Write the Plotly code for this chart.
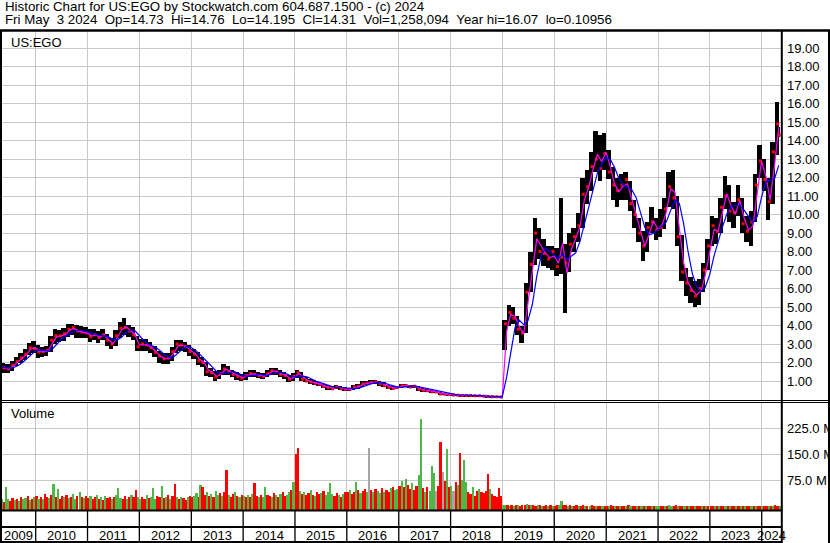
import pandas as pd
import plotly.graph_objects as go

# ---------------- data ----------------
# monthly bars, first bar = April 2009, last bar = May 2024 (partial month)
price_close = [
    1.75, 1.70, 1.65, 1.85, 2.05, 2.25, 2.45, 2.80, 2.75,                      # 2009 Apr-Dec
    2.55, 2.60, 2.65, 3.20, 3.45, 3.45, 3.55, 3.80, 3.90, 3.70, 3.65, 3.60,    # 2010
    3.40, 3.50, 3.35, 3.50, 3.20, 3.00, 3.45, 3.85, 3.90, 3.70, 3.50, 2.85,    # 2011
    3.00, 2.95, 2.80, 2.55, 2.35, 2.20, 2.25, 2.60, 3.00, 2.95, 2.85, 2.60,    # 2012
    2.45, 2.10, 2.00, 1.50, 1.45, 1.20, 1.40, 1.65, 1.50, 1.35, 1.25, 1.15,    # 2013
    1.30, 1.40, 1.35, 1.30, 1.25, 1.40, 1.55, 1.50, 1.35, 1.30, 1.10, 1.25,    # 2014
    1.45, 1.10, 1.00, 0.95, 0.88, 0.82, 0.70, 0.65, 0.58, 0.68, 0.58, 0.55,    # 2015
    0.55, 0.68, 0.70, 0.85, 0.88, 0.92, 0.95, 0.85, 0.75, 0.65, 0.60, 0.65,    # 2016
    0.75, 0.75, 0.68, 0.72, 0.55, 0.50, 0.48, 0.42, 0.40, 0.30, 0.28, 0.27,    # 2017
    0.25, 0.23, 0.22, 0.22, 0.21, 0.20, 0.20, 0.17, 0.16, 0.15, 0.15, 0.14,    # 2018
    4.10, 4.70, 4.40, 3.80, 3.60, 5.80, 7.30, 9.00, 8.00, 7.90, 7.60, 8.00,    # 2019
    7.20, 7.70, 7.40, 8.40, 8.80, 9.40, 11.10, 11.50, 12.60, 13.00, 12.50, 13.30,  # 2020
    12.30, 11.60, 11.30, 11.60, 11.90, 10.60, 10.00, 9.00, 8.30, 9.30, 9.60, 9.20,  # 2021
    9.30, 10.30, 11.50, 10.90, 8.80, 6.90, 6.30, 5.90, 5.60, 6.00, 7.00, 8.30,     # 2022
    9.40, 9.10, 10.40, 11.00, 10.20, 10.10, 10.80, 9.50, 9.10, 9.60, 11.60, 12.90,  # 2023
    11.90, 10.70, 13.40, 14.90, 14.31,                                         # 2024 Jan-May
]
price_high = [
    2.00, 1.95, 1.90, 2.10, 2.30, 2.50, 2.75, 3.05, 3.15,
    2.95, 2.85, 2.90, 3.45, 3.80, 3.75, 3.85, 4.10, 4.10, 4.05, 3.95, 3.90,
    3.80, 3.80, 3.70, 3.80, 3.55, 3.30, 3.75, 4.20, 4.40, 4.05, 3.90, 3.45,
    3.25, 3.25, 3.10, 2.90, 2.65, 2.50, 2.50, 2.85, 3.20, 3.20, 3.10, 2.95,
    2.75, 2.55, 2.30, 2.05, 1.70, 1.55, 1.60, 1.90, 1.80, 1.60, 1.48, 1.38,
    1.48, 1.58, 1.58, 1.48, 1.42, 1.58, 1.72, 1.68, 1.58, 1.48, 1.32, 1.42,
    1.60, 1.50, 1.20, 1.10, 1.04, 0.96, 0.86, 0.79, 0.72, 0.79, 0.72, 0.66,
    0.64, 0.79, 0.82, 0.99, 1.02, 1.04, 1.06, 0.99, 0.92, 0.79, 0.74, 0.74,
    0.83, 0.85, 0.81, 0.81, 0.73, 0.61, 0.58, 0.53, 0.48, 0.41, 0.35, 0.32,
    0.31, 0.28, 0.26, 0.26, 0.25, 0.24, 0.23, 0.21, 0.20, 0.19, 0.18, 0.17,
    4.30, 5.10, 5.00, 4.50, 4.00, 6.30, 8.00, 9.80, 9.30, 8.70, 8.30, 8.30,
    8.20, 10.90, 8.40, 9.00, 9.30, 10.10, 12.00, 12.40, 13.40, 14.50, 14.30, 14.40,
    13.50, 12.60, 12.00, 12.20, 12.30, 11.80, 10.80, 9.80, 9.10, 9.60, 10.40, 9.80,
    10.30, 10.90, 12.30, 12.40, 11.00, 8.90, 7.10, 6.60, 6.40, 6.50, 7.40, 8.70,
    9.90, 9.80, 10.90, 12.10, 11.60, 10.70, 11.60, 10.90, 9.90, 10.20, 12.20, 13.75,
    13.00, 12.00, 13.90, 16.07, 14.76,
]
price_low = [
    1.50, 1.45, 1.42, 1.55, 1.80, 1.95, 2.15, 2.40, 2.50,
    2.25, 2.30, 2.35, 2.55, 3.00, 3.10, 3.15, 3.40, 3.50, 3.35, 3.30, 3.30,
    3.10, 3.20, 3.05, 3.20, 2.90, 2.75, 2.90, 3.30, 3.50, 3.40, 3.20, 2.60,
    2.65, 2.65, 2.50, 2.30, 2.00, 1.90, 1.90, 2.10, 2.50, 2.65, 2.55, 2.35,
    2.20, 1.88, 1.78, 1.28, 1.23, 1.00, 1.10, 1.35, 1.30, 1.20, 1.05, 1.00,
    1.05, 1.20, 1.20, 1.15, 1.10, 1.20, 1.35, 1.35, 1.20, 1.10, 0.95, 1.00,
    1.16, 1.02, 0.92, 0.82, 0.79, 0.72, 0.62, 0.52, 0.49, 0.55, 0.49, 0.47,
    0.44, 0.52, 0.59, 0.67, 0.77, 0.82, 0.82, 0.75, 0.67, 0.57, 0.52, 0.55,
    0.62, 0.67, 0.60, 0.62, 0.48, 0.43, 0.42, 0.36, 0.33, 0.25, 0.23, 0.22,
    0.21, 0.19, 0.18, 0.18, 0.18, 0.17, 0.16, 0.14, 0.13, 0.12, 0.11, 0.11,
    2.70, 4.00, 4.10, 3.50, 3.05, 3.60, 5.80, 7.30, 7.60, 7.20, 7.10, 7.00,
    6.70, 6.80, 4.70, 6.90, 8.00, 8.50, 9.30, 10.60, 11.30, 12.30, 11.80, 12.40,
    11.90, 10.80, 10.40, 10.80, 10.80, 10.20, 9.30, 8.50, 7.50, 8.00, 9.00, 8.60,
    8.80, 9.20, 10.40, 10.30, 8.30, 6.40, 5.60, 5.20, 5.00, 5.10, 5.80, 7.00,
    8.30, 8.40, 9.00, 10.30, 9.60, 9.30, 9.90, 9.00, 8.50, 8.30, 9.60, 12.00,
    11.30, 9.70, 10.60, 13.20, 14.195,
]

# half-month volume bars (millions), first = 1st half of April 2009
volume_m = [
    14, 18, 22, 12, 55, 20, 16, 25, 18, 22, 14, 28, 20, 24, 30, 18, 22, 26,                    # 2009
    30, 22, 28, 20, 35, 26, 24, 32, 64, 28, 50, 22, 30, 26, 34, 24, 28, 36, 22, 30, 40, 26, 24, 30,  # 2010
    24, 30, 20, 28, 34, 22, 26, 18, 30, 24, 28, 20, 26, 32, 52, 24, 20, 30, 22, 26, 34, 28, 48, 26,  # 2011
    22, 28, 20, 32, 24, 26, 52, 22, 30, 26, 60, 24, 28, 34, 22, 30, 64, 26, 20, 28, 24, 18, 26, 30,  # 2012
    26, 30, 38, 28, 62, 57, 34, 40, 30, 36, 28, 44, 32, 38, 30, 42, 106, 34, 28, 36, 40, 30, 26, 34,  # 2013
    30, 26, 34, 28, 36, 67, 30, 26, 32, 28, 57, 34, 30, 26, 38, 32, 28, 36, 42, 30, 34, 40, 46, 70,  # 2014
    150, 169, 44, 36, 40, 32, 38, 46, 34, 30, 42, 36, 38, 44, 32, 40, 68, 36, 30, 38, 34, 28, 36, 40,  # 2015
    40, 46, 36, 42, 69, 48, 38, 44, 50, 40, 167, 46, 40, 50, 44, 38, 52, 42, 48, 40, 52, 56, 46, 50,  # 2016
    60, 72, 55, 80, 62, 50, 66, 48, 58, 90, 252, 52, 40, 55, 45, 116, 95, 45, 60, 186, 100, 72, 164, 55,  # 2017
    60, 45, 70, 62, 155, 75, 133, 70, 40, 35, 55, 30, 45, 50, 40, 38, 45, 93, 50, 35, 30, 28, 52, 30,  # 2018
    3, 4, 3, 2, 3, 2, 3, 3, 2, 3, 3, 6, 4, 3, 3, 2, 3, 3, 2, 2, 3, 2, 3, 2,                    # 2019
    2, 3, 3, 16, 4, 3, 2, 3, 2, 2, 3, 2, 2, 3, 2, 2, 2, 3, 2, 2, 1, 2, 2, 2,                   # 2020
    2, 2, 3, 2, 2, 2, 1, 2, 2, 2, 3, 2, 1, 2, 2, 1, 2, 2, 1, 2, 2, 1, 2, 2,                    # 2021
    2, 1, 2, 2, 2, 3, 2, 2, 3, 2, 2, 1, 2, 2, 1, 1, 2, 1, 2, 1, 1, 2, 1, 2,                    # 2022
    1, 2, 1, 1, 2, 1, 2, 1, 1, 2, 1, 1, 2, 1, 2, 2, 1, 1, 2, 1, 1, 2, 2, 1,                    # 2023
    1, 2, 2, 1, 2, 2, 3, 2, 1,                                                                 # 2024
]
# bar direction: g = up, r = down, k = unchanged
volume_dir = (
    "grgrggrrgrgrggrgrg"
    "rgrgrrgrgrgrrgrgrggrgrgr"
    "rgrrgrgrgrrgrgggrrgrgrrg"
    "grrgrgggrrgrgrgrrgrgrrgr"
    "rggrgrrgrgrggrgrrgrrgrgr"
    "grgrgrrgrggrrgrgrgrrggrg"
    "rrgrgrrgrgrrgrggggrrgrgr"
    "rgrrgrgrrgkrgrggrgrrgrgg"
    "rgrgrrgrrggrgrgggkrrkrgr"
    "gkrgrgggrrgrrgrrrrgrrrrr"
    "ggrgrgrgrrrgrgrrgrgrrgrg"
    "rrggrrgrgrrgrrgrgrrgrrgr"
    "rgrrgrgrrgrgrrgrgrgrrgrg"
    "grrgrggrrgrrgrgrrgrrgrgr"
    "rrgrgrrgrgrrgrgrgrrgrgrr"
    "grrgrgrrg"
)

year_labels = [str(y) for y in range(2009, 2025)]
price_ticks = list(range(1, 20))
volume_ticks = [75, 150, 225]
header_1 = "Historic Chart for US:EGO by Stockwatch.com 604.687.1500 - (c) 2024"
header_2 = "Fri May  3 2024  Op=14.73  Hi=14.76  Lo=14.195  Cl=14.31  Vol=1,258,094  Year hi=16.07  lo=0.10956"
symbol_label = "US:EGO"
volume_label = "Volume"

# ---------------- build ----------------
W, H = 830, 543
FONT = "Liberation Sans, Arial, Helvetica, sans-serif"
DAY = 86400000


def fx(px):
    return px / W


def fy(py):
    return 1 - py / H


n = len(price_close)
mstart = pd.date_range("2009-04-01", periods=n, freq="MS")
bar_x = [d + pd.Timedelta(days=d.days_in_month / 2) for d in mstart]
bar_x[-1] = pd.Timestamp("2024-05-02")
bar_w = [d.days_in_month * DAY for d in mstart]
bar_w[-1] = 3 * DAY
close_x = [d + pd.Timedelta(days=22) for d in mstart]
close_x[-1] = pd.Timestamp("2024-05-03")

typ = [(h + l + c) / 3 for h, l, c in zip(price_high, price_low, price_close)]
ma_x, ma_fast, ma_slow = [], [], []
for i in range(n - 1):
    ma_x.append(mstart[i] + pd.offsets.MonthEnd(0))
    ma_fast.append(typ[i])
    s = d = 0.0
    for wt, k in ((0.3, i - 3), (1.0, i - 2), (1.0, i - 1), (1.0, i)):
        if k >= 0:
            s += wt * typ[k]
            d += wt
    ma_slow.append(s / d)

nv = len(volume_m)
vol_x = [pd.Timestamp(2009, 4, 1) + pd.DateOffset(months=j // 2)
         + pd.Timedelta(days=7 if j % 2 == 0 else 22) for j in range(nv)]
dirs = (volume_dir + "g" * nv)[:nv]
cmap = {"g": "#4db848", "r": "#ff0000", "k": "#a6a6a6"}
vol_colors = [cmap[c] for c in dirs]

V_MIN, V_MAX = -10.67, 298.0
P_MIN, P_MAX = -0.054, 19.93
X0, X1 = "2009-05-01 15:00", "2024-05-15 22:00"

fig = go.Figure()
fig.add_trace(go.Bar(
    x=bar_x, y=[h - l for h, l in zip(price_high, price_low)], base=price_low,
    width=bar_w, marker=dict(color="black", line=dict(width=0)),
    xaxis="x", yaxis="y", showlegend=False, hoverinfo="skip"))
fig.add_trace(go.Scatter(
    x=close_x, y=price_close, mode="markers",
    marker=dict(symbol="square", size=3, color="#ff0000", line=dict(width=0)),
    xaxis="x", yaxis="y", showlegend=False))
fig.add_trace(go.Scatter(
    x=ma_x, y=ma_fast, mode="lines", line=dict(color="#ff00ff", width=1.2),
    xaxis="x", yaxis="y", showlegend=False))
fig.add_trace(go.Scatter(
    x=ma_x, y=ma_slow, mode="lines", line=dict(color="#0000ff", width=1.2),
    xaxis="x", yaxis="y", showlegend=False))
fig.add_trace(go.Bar(
    x=vol_x, y=[v - V_MIN for v in volume_m], base=V_MIN, width=12 * DAY,
    marker=dict(color=vol_colors, line=dict(width=0)),
    xaxis="x2", yaxis="y2", showlegend=False, hoverinfo="skip"))

grid = "#c8c8c8"
xcommon = dict(domain=[fx(1), fx(781)], range=[X0, X1], type="date",
               showticklabels=False, ticks="", showgrid=True, gridcolor=grid,
               gridwidth=1, tick0="2010-01-01", dtick="M12", zeroline=False,
               showline=False, automargin=False, fixedrange=True)

fig.update_layout(
    width=W, height=H, margin=dict(l=0, r=0, t=0, b=0),
    template="none", paper_bgcolor="white", plot_bgcolor="white",
    bargap=0, barmode="overlay", showlegend=False,
    font=dict(family=FONT, size=12.5, color="black"),
    xaxis=dict(anchor="y", **xcommon),
    xaxis2=dict(anchor="y2", matches="x", **xcommon),
    yaxis=dict(domain=[fy(400.5), fy(31)], range=[P_MIN, P_MAX], side="right",
               anchor="x", tickvals=price_ticks,
               ticktext=["%.2f" % v for v in price_ticks], ticks="",
               showgrid=True, gridcolor=grid, gridwidth=1, zeroline=False,
               showline=False, automargin=False, ticklabelstandoff=5,
               tickfont=dict(family=FONT, size=13, color="black")),
    yaxis2=dict(domain=[fy(510), fy(403)], range=[V_MIN, V_MAX], side="right",
                anchor="x2", tickvals=volume_ticks,
                ticktext=["%.1f M" % v for v in volume_ticks], ticks="",
                showgrid=True, gridcolor=grid, gridwidth=1, zeroline=False,
                showline=False, automargin=False, ticklabelstandoff=5,
                tickfont=dict(family=FONT, size=13, color="black")),
)

shapes = []


def hline(py, x0px, x1px, w):
    shapes.append(dict(type="line", xref="paper", yref="paper", x0=fx(x0px), x1=fx(x1px),
                       y0=fy(py), y1=fy(py), line=dict(color="black", width=w)))


def vline(px, y0px, y1px, w):
    shapes.append(dict(type="line", xref="paper", yref="paper", x0=fx(px), x1=fx(px),
                       y0=fy(y0px), y1=fy(y1px), line=dict(color="black", width=w)))


hline(30.5, 0, 830, 2.5)
hline(400.5, 0, 830, 1)
hline(402.5, 0, 830, 1)
hline(510.5, 0, 782, 2)
hline(527, 0, 782, 2)
hline(542, 0, 782, 2)
vline(1, 30, 543, 2)
vline(781.8, 30, 543, 2)
vline(829, 30, 543, 2)
for y in year_labels[1:]:
    shapes.append(dict(type="line", xref="x", yref="paper", x0=y + "-01-01", x1=y + "-01-01",
                       y0=fy(543), y1=fy(510), line=dict(color="black", width=1.3)))

annotations = []
x0t, x1t = pd.Timestamp(X0), pd.Timestamp(X1)
for y in year_labels:
    a = max(pd.Timestamp(y + "-01-01"), x0t)
    b = min(pd.Timestamp(str(int(y) + 1) + "-01-01"), x1t)
    annotations.append(dict(x=a + (b - a) / 2, y=fy(535), xref="x", yref="paper",
                            text=y, showarrow=False, xanchor="center", yanchor="middle",
                            font=dict(size=13, family=FONT, color="black")))


def nb(s):
    return s.replace(" ", "\u00a0")


for txt, py in ((header_1, 6.5), (header_2, 19.5)):
    annotations.append(dict(x=fx(3), y=fy(py), xref="paper", yref="paper", text=nb(txt),
                            showarrow=False, xanchor="left", yanchor="middle",
                            font=dict(size=13.3, family=FONT, color="black")))
annotations.append(dict(x=fx(9), y=fy(42), xref="paper", yref="paper", text=symbol_label,
                        showarrow=False, xanchor="left", yanchor="middle",
                        font=dict(size=13, family=FONT, color="black")))
annotations.append(dict(x=fx(9), y=fy(413.5), xref="paper", yref="paper", text=volume_label,
                        showarrow=False, xanchor="left", yanchor="middle",
                        font=dict(size=13, family=FONT, color="black")))

fig.update_layout(shapes=shapes, annotations=annotations)
fig.write_html("out.html", config={"displayModeBar": False},
               post_script="document.body.style.margin='0';document.body.style.overflow='hidden';")
